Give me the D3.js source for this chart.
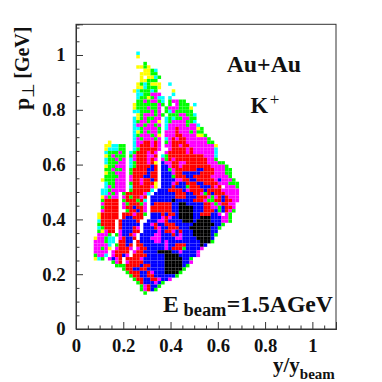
<!DOCTYPE html>
<html><head><meta charset="utf-8">
<script src="https://cdn.jsdelivr.net/npm/d3@7"></script>
<style>html,body{margin:0;padding:0;background:#fff}svg{display:block}text{font-family:"Liberation Serif",serif;font-weight:bold;fill:#111}</style>
</head><body><div id="c"></div>
<script>
// Occupancy levels of the y/y_beam vs p_perp histogram, top row first.
// Each letter is the colour level of one bin; '.' and 'w' are empty bins.
const levelKeys = ["y","c","g","m","r","b","k"];
const levelColors = ["#ffff00","#00ffff","#00ff00","#ff00ff","#ff0000","#0000ff","#000000"];
const binX = 0.015, binY = 0.0125, firstCol = 4, topRow = 80;
const xMajor = [0,0.2,0.4,0.6,0.8,1];
const yMajor = [0,0.2,0.4,0.6,0.8,1];
const xTickLabels = ["0","0.2","0.4","0.6","0.8","1"];
const yTickLabels = ["0","0.2","0.4","0.6","0.8","1"];
const xMinor = [0.05,0.1,0.15,0.25,0.3,0.35,0.45,0.5,0.55,0.65,0.7,0.75,0.85,0.9,0.95,1.05];
const yMinor = [0.05,0.1,0.15,0.25,0.3,0.35,0.45,0.5,0.55,0.65,0.7,0.75,0.85,0.9,0.95,1.05,1.1];
const cellRows = [
".............c",
".............y",
"",
"...............g",
".............yygy",
"...............yygc",
"..............yyygg",
"..............y.yycg",
"..............yyggg",
".............ygcgyyy..c",
".............yycgggy",
"............ycgggcg....y",
".............ccggmmm...c",
".............cggygmcc.c",
".............ggmgmmgc.gmmgg",
"............yggggggmg.gwmggg.c",
"............ygggmggm.gmmmgggy",
"............ccgggmgm.gcmggggg",
".............ygmmmgmg.gggmmggc",
"............cygmggmm.cgcggmmgg",
"............cgmmgmmy.cgmmmmggc",
"............cmmgmmgm.cmmmmmgmmc",
"............ccgmmmmg.cmmrmmmmmyg",
"............cygmgmmg.mmmrmmmgmgg",
"............cgmmmgmy.mmmrrmmmmyyg",
"............cmgmmmgm.cmrmrrmmmmmmg",
".....y......cmmrrmrm.gmrrrrmmmmmmgg",
"....yyccgg..cmrrrmrm.mmrrmrrmmmmmmmy",
"....ycccgg..cgrrrrrm.wmrrrrmrmmmmmmc",
"....cgggmg.cgrrrmrm.wmrrrrrmrmmmmmmc",
"....ygmggg.gmrrrmmr.cgrrrrrrrrrrmmmc",
"....cggmgm.cmrrrmrm.mgrmrrrrrrrrrmmg",
"....cgggmm.cgrrrmry.bmmrrmmrrrrrrmmmgg",
"....yggmmm.cgrrrrbr.bbmrrmrrrrrrrrmmmmg",
"....ggmggm.grrrrbbr.bbgmrrrrrrbbrrrmmmgg",
"....yggmmm.grrrrbrr.bbbmrrbbbbbrrrrmmmgg",
"....ggggmm.mrrrbbrr.bbbgrrrbbrrrrrmmmmmg",
"...ygggmmm.mrrmrrbr.bbbbmmrrbbrrrrrmbmmmg",
"....cggmmm.grrmrrry.bbbmrbbrrrbbrrrrmmmggg",
"....cmgmmm.crrrrrmy.bbbrbbbgrrrbbbrmrwmmmg",
"...ccgmmmm.grrrrrc.bbbrrrrbmrrrrbrrrrmmmmm",
"...ccmgm.grrrrrmc.bbbbbbrrrbbrrmgrbrrrmmmm",
"...ymgmm.mrgrrmr.bbbbbbbrrrbbbrrrmgmrbrmmm",
"...grrrr.grrrgrc.bbbbbbkbbbbbrrrmggrrbrrmm",
"...mrrrr.mgrrrgm.brrrrrbbkkbbbbbrrmgmrrmm",
"...grrrr.mrrbrrm.rrrrrrbbkkkkbbbrrmmgbrrm",
"...mrrrr.wgrrbrm.rrrrrrbbkkkkbbbrrrbgbrmg",
"..yrrrrr.rrrmrrg.bbbrbrrbkkkkbbrrrbbmwmg",
"..yrrrrr.rbbrrr..bbbmrmbbkkkkbbkkkbbbmmg",
"..crrrr.rbbbbr..bbbmmrbbbbkkkbkkkkbbbmmg",
"..grrrr.rbbbbb.bbmrbbrrrbbbbbkkkkkkbbg",
"..cgrrr.rbbbrm.bbbrmbbrrrbbbkkkkkkbbg",
"..gymrr.mbbbrr.bbbbmbrrmbrbbbkkkkkbb",
"..mmmg.gmbbrm.bbbbmmbbbrbmbbbkkkkkbg",
".ymmgcc.mrbbr.bbbmmmbbbbmmbbbbkkkkb",
".mmmgcc.rrbb.rbbbbmmbmbbbbbbbbbkkkg",
".mmmmc.grrbr.rrbbbbbbmbbrrrbbbbkb",
".mmgmy.mrrrm.mrrbbbbbmbrrrgbbbbm",
".mmmm.mrrrr.mrrbbbbkkkkbbmbbbbm",
".gmmc.mrrbm.rrrrbbbbbkkkkbbbbbm",
".ycg.mbmr.rrrrmbbbbbbkkkkkbbg",
"......gmr.mrrrrbbbbbbkkkkkbbm",
".......gggrrrrbrrbbbbkkkkkbg",
".........grrbbrrbbbbbkkkkkg",
"..........grrrbbrmbbbkkkkg",
"...........grrbbrrbbbbbbg",
"............grrbbrrmbbm",
".............grbbbmbg",
"..............gmrbbg",
"..............gmrbg",
"...............g"
];

const width = 382, height = 382;
const x = d3.scaleLinear().domain([0,1.1]).range([76,336]);
const y = d3.scaleLinear().domain([0,1.112]).range([329,24.3]);
const color = d3.scaleOrdinal().domain(levelKeys).range(levelColors);

const cells = [];
cellRows.forEach((row,r)=>{
  for (let k=0;k<row.length;k++){
    const ch=row[k];
    if (levelKeys.includes(ch)) cells.push({col:firstCol+k,row:topRow-r,level:ch});
  }
});

const svg = d3.select("#c").append("svg").attr("width",width).attr("height",height);
svg.append("g").selectAll("rect").data(cells).join("rect")
  .attr("x",d=>x(d.col*binX))
  .attr("y",d=>y((d.row+1)*binY))
  .attr("width",x(binX)-x(0))
  .attr("height",y(0)-y(binY))
  .attr("fill",d=>color(d.level));

// frame
svg.append("rect").attr("x",x(0)).attr("y",y(1.112)).attr("width",x(1.1)-x(0)).attr("height",y(0)-y(1.112))
  .attr("fill","none").attr("stroke","#333").attr("stroke-width",1);

function styleAxis(g){g.select(".domain").attr("stroke","#333");g.selectAll("line").attr("stroke","#333");g.selectAll("text").attr("fill","#111").style("font-size","18.7px").attr("font-family",null);g.attr("font-family",null).attr("font-size",null);}
svg.append("g").attr("transform",`translate(0,${y(0)})`)
  .call(d3.axisBottom(x).tickValues(xMajor).tickSize(-7).tickPadding(9.4).tickFormat((d,i)=>xTickLabels[i])).call(styleAxis);
svg.append("g").attr("transform",`translate(0,${y(0)})`)
  .call(d3.axisBottom(x).tickValues(xMinor).tickSize(-3.5).tickFormat("")).call(styleAxis);
svg.append("g").attr("transform",`translate(${x(0)},0)`)
  .call(d3.axisLeft(y).tickValues(yMajor).tickSize(-7).tickPadding(10.3).tickFormat((d,i)=>yTickLabels[i])).call(styleAxis);
svg.append("g").attr("transform",`translate(${x(0)},0)`)
  .call(d3.axisLeft(y).tickValues(yMinor).tickSize(-3.5).tickFormat("")).call(styleAxis);

// y title
const yt = svg.append("text").attr("transform","translate(28.5,110) rotate(-90)").style("font-size","22px");
yt.append("tspan").text("p");
yt.append("tspan").attr("dy",5).style("font-size","17px").style("font-weight","normal").text("\u22a5");
yt.append("tspan").attr("dy",-5).attr("dx",4).style("font-size","20px").text("[GeV]");

// x title
const xt = svg.append("text").attr("x",273).attr("y",371.5).style("font-size","21px");
xt.append("tspan").text("y/y");
xt.append("tspan").attr("dy",7.5).style("font-size","15px").text("beam");

// annotations
svg.append("text").attr("x",226.7).attr("y",72.3).style("font-size","23.8px").text("Au+Au");
const kt = svg.append("text").attr("x",250.5).attr("y",113.3).style("font-size","22.7px");
kt.append("tspan").text("K");
kt.append("tspan").attr("dy",-8).attr("dx",1.5).style("font-size","17px").style("font-weight","normal").text("+");
const et = svg.append("text").attr("x",163).attr("y",312).style("font-size","23.7px");
et.append("tspan").text("E");
et.append("tspan").attr("x",183.5).attr("dy",4).style("font-size","18.4px").text("beam");
et.append("tspan").attr("x",226.7).attr("dy",-4).text("=1.5AGeV");
</script></body></html>
